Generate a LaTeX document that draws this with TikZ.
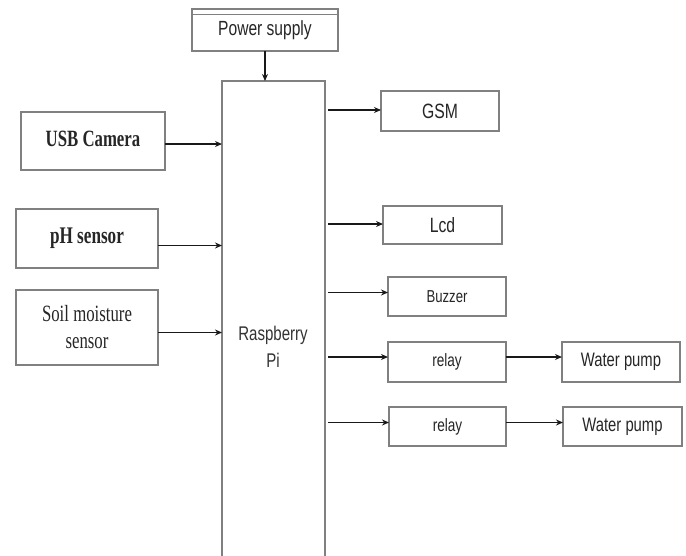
\documentclass[tikz,border=0pt]{standalone}
\usepackage{fontspec}
\newfontfamily\narrowsans[FakeStretch=0.76]{Liberation Sans}
\newfontfamily\narrowserif[FakeStretch=0.72]{Liberation Serif}
\usetikzlibrary{arrows.meta}

\begin{document}
\begin{tikzpicture}[x=1pt,y=-1pt,>={Stealth[length=7pt,width=6pt]}]
    \tikzstyle{block}=[rectangle,draw=black!50,line width=1.3pt,fill=white,inner sep=0pt,outer sep=0pt,align=center,text=black!85]
    \tikzstyle{sans block}=[block,font=\narrowsans\fontsize{19.5}{23}\selectfont]
    \tikzstyle{serif block}=[block,font=\narrowserif\fontsize{23.3}{27}\selectfont]
    \tikzstyle{arr}=[->,draw=black!90,line width=1.7pt]

    \clip (0,0) rectangle (686,555);

    % Power supply and the Raspberry Pi board
    \node[sans block,minimum width=146,minimum height=42,font=\narrowsans\fontsize{20.5}{23}\selectfont] (power) at (265,30) {Power supply};
    \draw[draw=black!50,line width=1pt] ([yshift=-5pt]power.north west) -- ([yshift=-5pt]power.north east);
    \node[block,minimum width=103,minimum height=480] (pi) at (273.5,321) {};
    \node[text=black!80,font=\narrowsans\fontsize{19.8}{27}\selectfont,align=center] (pitext) at (273,347) {Raspberry\\Pi};

    % Sensors on the left
    \node[serif block,minimum width=144,minimum height=58,font=\narrowserif\bfseries\fontsize{23.3}{27}\selectfont] (usb) at (93,141) {\raisebox{5pt}{USB Camera}};
    \node[serif block,minimum width=142,minimum height=59,font=\narrowserif\bfseries\fontsize{23.8}{27}\selectfont] (ph) at (87,238.5) {\raisebox{3pt}{pH sensor}};
    \node[serif block,minimum width=142,minimum height=75] (soil) at (87,327.5) {Soil moisture\\sensor};

    % Outputs on the right
    \node[sans block,minimum width=118,minimum height=40,font=\narrowsans\fontsize{20.7}{23}\selectfont] (gsm) at (440,111) {GSM};
    \node[sans block,minimum width=119,minimum height=38,font=\narrowsans\fontsize{20.7}{23}\selectfont] (lcd) at (442.5,225) {Lcd};
    \node[sans block,minimum width=118,minimum height=39,font=\narrowsans\fontsize{17.3}{21}\selectfont] (buzzer) at (447,296.5) {Buzzer};
    \node[sans block,minimum width=118,minimum height=40,font=\narrowsans\fontsize{17.9}{21}\selectfont] (relay-1) at (447,362) {relay};
    \node[sans block,minimum width=117,minimum height=39,font=\narrowsans\fontsize{17.9}{21}\selectfont] (relay-2) at (447.5,426.5) {relay};
    \node[sans block,minimum width=118,minimum height=40] (pump-1) at (621,362) {Water pump};
    \node[sans block,minimum width=119,minimum height=39] (pump-2) at (622.5,426.5) {Water pump};

    % Connections
    \draw[arr] (power.south) -- (power.south |- pi.north);
    \foreach \name / \s in {usb/-3pt,ph/-7pt,soil/-5pt}
        \draw[arr] ([yshift=\s]\name.east) -- ([yshift=\s]\name.east -| pi.west);
    \foreach \name / \s in {gsm/1pt,lcd/1pt,buzzer/4pt,relay-1/5pt,relay-2/4pt}
        \draw[arr] ([xshift=3pt,yshift=\s]\name.west -| pi.east) -- ([yshift=\s]\name.west);
    \foreach \i / \s in {1/5pt,2/4pt}
        \draw[arr] ([yshift=\s]relay-\i.east) -- ([yshift=\s]pump-\i.west);
\end{tikzpicture}
\end{document}
